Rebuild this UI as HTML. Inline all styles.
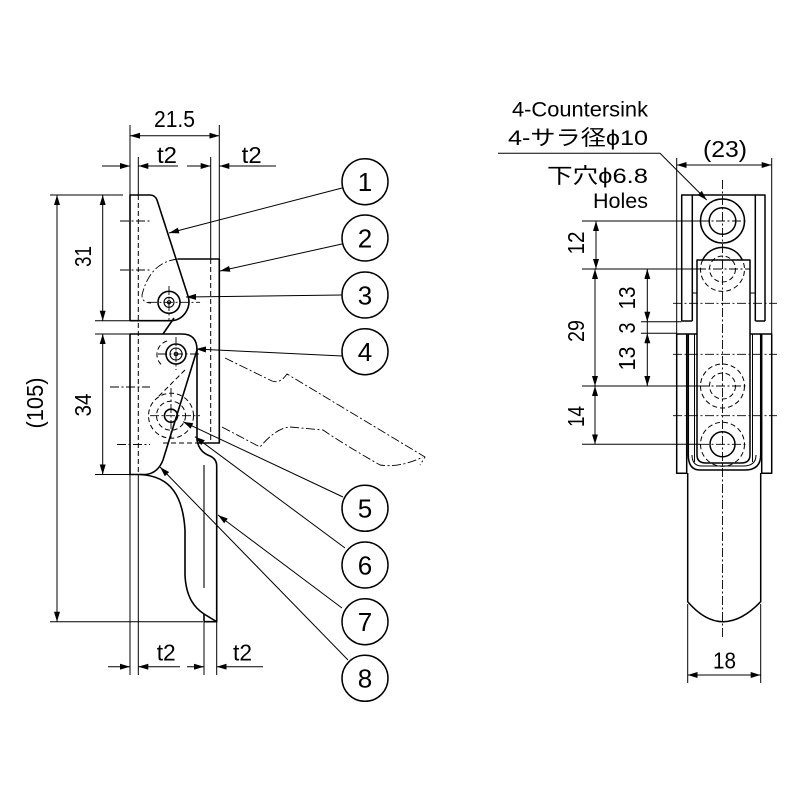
<!DOCTYPE html>
<html><head><meta charset="utf-8"><style>
html,body{margin:0;padding:0;background:#fff;}
svg{display:block;}
text{font-family:"Liberation Sans","Noto Sans CJK JP",sans-serif;fill:#000;}
</style></head><body>
<svg width="800" height="800" viewBox="0 0 800 800" xmlns="http://www.w3.org/2000/svg">
<defs>
<marker id="ar" viewBox="0 0 10 6" refX="10" refY="3" markerWidth="10" markerHeight="6" markerUnits="userSpaceOnUse" orient="auto-start-reverse"><path d="M0,0L10,3L0,6z" fill="#000"/></marker>
</defs>
<rect width="800" height="800" fill="#fff"/>

<!-- ===== LEFT VIEW ===== -->
<g stroke="#000" stroke-width="1" fill="none">
  <line x1="130" y1="125" x2="130" y2="195"/>
  <line x1="138.3" y1="157" x2="138.3" y2="195"/>
  <line x1="210.7" y1="157" x2="210.7" y2="259"/>
  <line x1="219.3" y1="125" x2="219.3" y2="259"/>
  <line x1="130" y1="474.5" x2="130" y2="675"/>
  <line x1="138.3" y1="474.5" x2="138.3" y2="675"/>
  <line x1="204" y1="622" x2="204" y2="675"/>
  <line x1="216.7" y1="622" x2="216.7" y2="675"/>
  <line x1="50" y1="195" x2="123" y2="195"/>
  <line x1="95" y1="320.7" x2="130" y2="320.7"/>
  <line x1="95" y1="334" x2="130" y2="334"/>
  <line x1="95" y1="474.5" x2="130" y2="474.5"/>
  <line x1="50" y1="621.7" x2="203" y2="621.7"/>
  <line x1="130" y1="135.7" x2="219.3" y2="135.7" marker-start="url(#ar)" marker-end="url(#ar)"/>
  <line x1="102" y1="166" x2="130" y2="166" marker-end="url(#ar)"/>
  <line x1="178" y1="166" x2="138.3" y2="166" marker-end="url(#ar)"/>
  <line x1="187" y1="166" x2="210.7" y2="166" marker-end="url(#ar)"/>
  <line x1="276" y1="166" x2="219.3" y2="166" marker-end="url(#ar)"/>
  <line x1="102.7" y1="195" x2="102.7" y2="320.7" marker-start="url(#ar)" marker-end="url(#ar)"/>
  <line x1="102.7" y1="334" x2="102.7" y2="474.5" marker-start="url(#ar)" marker-end="url(#ar)"/>
  <line x1="57" y1="195" x2="57" y2="621.7" marker-start="url(#ar)" marker-end="url(#ar)"/>
  <line x1="108" y1="666.7" x2="130" y2="666.7" marker-end="url(#ar)"/>
  <line x1="180" y1="666.7" x2="138.3" y2="666.7" marker-end="url(#ar)"/>
  <line x1="187" y1="666.7" x2="204" y2="666.7" marker-end="url(#ar)"/>
  <line x1="263" y1="666.7" x2="216.7" y2="666.7" marker-end="url(#ar)"/>
  <line x1="342" y1="188" x2="169" y2="233" marker-end="url(#ar)"/>
  <line x1="342" y1="244" x2="220" y2="271" marker-end="url(#ar)"/>
  <line x1="342" y1="295" x2="186" y2="297" marker-end="url(#ar)"/>
  <line x1="342" y1="356" x2="196" y2="349" marker-end="url(#ar)"/>
  <line x1="343" y1="497" x2="183" y2="421.7" marker-end="url(#ar)"/>
  <line x1="345" y1="548" x2="195" y2="436.7" marker-end="url(#ar)"/>
  <line x1="342" y1="608" x2="218" y2="515" marker-end="url(#ar)"/>
  <line x1="348" y1="660" x2="160" y2="467" marker-end="url(#ar)"/>
</g>

<g stroke="#000" stroke-width="1" fill="none" stroke-dasharray="5,3">
  <line x1="138.3" y1="195" x2="138.3" y2="474.5"/>
  <line x1="210.7" y1="259" x2="210.7" y2="443"/>
  <line x1="163" y1="443" x2="197" y2="443"/>
  <line x1="185" y1="370" x2="158" y2="397"/>
  <path d="M167,341 A14,14 0 0 0 163,366"/>
  <circle cx="171" cy="415.7" r="14.5"/>
  <circle cx="171" cy="415.7" r="22.5"/>
</g>

<g stroke="#000" stroke-width="0.9" fill="none" stroke-dasharray="9,2.5,2,2.5">
  <line x1="120" y1="221" x2="150" y2="221"/>
  <line x1="120" y1="270" x2="150" y2="270"/>
  <line x1="110" y1="387" x2="150" y2="387"/>
  <line x1="117" y1="444.5" x2="150" y2="444.5"/>
  <line x1="148" y1="302.3" x2="200" y2="302.3"/>
  <line x1="169" y1="286" x2="169" y2="320"/>
  <line x1="158" y1="354" x2="200" y2="354"/>
  <line x1="176" y1="337" x2="176" y2="370"/>
  <line x1="150" y1="415.7" x2="200" y2="415.7"/>
  <line x1="171" y1="388" x2="171" y2="438"/>
  <path d="M178,259 Q150,262 142,295 Q142,303 151,303"/>
  <path d="M225,358 L272,381 Q280,384 287,374 L425,457 L420,465"/>
  <path d="M222,427 L260,447 Q276,428 290,427 L323,430 Q345,445 380,465 Q400,468 423,457"/>
</g>

<g stroke="#000" stroke-width="1.6" fill="none" stroke-linejoin="round">
  <path d="M130,320.7 L130,195 L150,195 Q155,195 157,200 L188,296 A19,19 0 0 1 172,320.7 L130,320.7"/>
  <path d="M174,318 L163,334"/>
  <path d="M178,259 L219.3,259 L219.3,443 L197,443"/>
  <path d="M130,474.5 L130,334 L182,334 Q197,334 197,350 L163,460 Q158,473 146,474.5 L130,474.5"/>
  <path d="M197,350 L197,440 Q199,452 210,456 Q216.7,459 216.7,466 L216.7,621.7 L204,621.7"/>
  <path d="M140,474.5 C172,476 183,498 185,530 L185,575 C186,598 195,608 204,614 L216.7,621.7"/>
  <path d="M204,614 L204,621.7"/>
  <circle cx="169" cy="302.3" r="11"/>
  <circle cx="176" cy="354" r="10"/>
  <circle cx="171" cy="415.7" r="6.5"/>
</g>
<g stroke="#000" stroke-width="1.1" fill="none">
  <line x1="204" y1="465" x2="204" y2="588"/>
  <circle cx="169" cy="302.3" r="5"/>
  <circle cx="176" cy="354" r="6"/>
  <circle cx="169" cy="302.3" r="1.6"/>
  <circle cx="176" cy="354" r="1.8"/>
</g>

<g stroke="#000" stroke-width="1.5" fill="#fff">
  <circle cx="365" cy="181.7" r="23"/>
  <circle cx="365" cy="238" r="23"/>
  <circle cx="365" cy="295" r="23"/>
  <circle cx="365" cy="351.7" r="23"/>
  <circle cx="365" cy="508.3" r="23"/>
  <circle cx="365" cy="565" r="23"/>
  <circle cx="365" cy="621.7" r="23"/>
  <circle cx="365" cy="678.3" r="23"/>
</g>
<g font-size="26" text-anchor="middle">
  <text x="365" y="191">1</text>
  <text x="365" y="247.3">2</text>
  <text x="365" y="304.3">3</text>
  <text x="365" y="361">4</text>
  <text x="365" y="517.6">5</text>
  <text x="365" y="574.3">6</text>
  <text x="365" y="631">7</text>
  <text x="365" y="687.6">8</text>
</g>

<g font-size="23">
  <text x="154" y="127" textLength="41" lengthAdjust="spacingAndGlyphs">21.5</text>
  <text x="157" y="163" textLength="20" lengthAdjust="spacingAndGlyphs">t2</text>
  <text x="241.7" y="163" textLength="20" lengthAdjust="spacingAndGlyphs">t2</text>
  <text x="156.7" y="660.7" textLength="19" lengthAdjust="spacingAndGlyphs">t2</text>
  <text x="233" y="660.7" textLength="19" lengthAdjust="spacingAndGlyphs">t2</text>
  <text transform="translate(91,267) rotate(-90)" textLength="21" lengthAdjust="spacingAndGlyphs">31</text>
  <text transform="translate(91,416.5) rotate(-90)" textLength="23" lengthAdjust="spacingAndGlyphs">34</text>
  <text transform="translate(43,428.5) rotate(-90)" textLength="51" lengthAdjust="spacingAndGlyphs">(105)</text>
</g>

<!-- ===== RIGHT VIEW ===== -->
<g font-size="21">
  <text x="512" y="116.7" textLength="136" lengthAdjust="spacingAndGlyphs">4-Countersink</text>
  <text x="508" y="145" textLength="140" lengthAdjust="spacingAndGlyphs">4-サラ径ϕ10</text>
  <text x="547" y="183" textLength="101" lengthAdjust="spacingAndGlyphs">下穴ϕ6.8</text>
  <text x="593" y="208" textLength="55" lengthAdjust="spacingAndGlyphs">Holes</text>
</g>
<g font-size="23">
  <text x="703" y="157" textLength="44" lengthAdjust="spacingAndGlyphs">(23)</text>
  <text x="713" y="668.3" textLength="23" lengthAdjust="spacingAndGlyphs">18</text>
  <text transform="translate(584,254.5) rotate(-90)" textLength="23" lengthAdjust="spacingAndGlyphs">12</text>
  <text transform="translate(584,342) rotate(-90)" textLength="22" lengthAdjust="spacingAndGlyphs">29</text>
  <text transform="translate(584,427) rotate(-90)" textLength="21" lengthAdjust="spacingAndGlyphs">14</text>
  <text transform="translate(635,309.5) rotate(-90)" textLength="23" lengthAdjust="spacingAndGlyphs">13</text>
  <text transform="translate(635,333.5) rotate(-90)" textLength="11" lengthAdjust="spacingAndGlyphs">3</text>
  <text transform="translate(635,370.5) rotate(-90)" textLength="24" lengthAdjust="spacingAndGlyphs">13</text>
</g>

<g stroke="#000" stroke-width="1" fill="none">
  <path d="M498,153.3 L660,153.3 L706.7,200" marker-end="url(#ar)"/>
  <line x1="676.7" y1="158" x2="676.7" y2="334"/>
  <line x1="771.7" y1="158" x2="771.7" y2="334"/>
  <line x1="676.7" y1="165" x2="771.7" y2="165" marker-start="url(#ar)" marker-end="url(#ar)"/>
  <line x1="582" y1="221" x2="700" y2="221"/>
  <line x1="582" y1="269" x2="697" y2="269"/>
  <line x1="582" y1="386" x2="700" y2="386"/>
  <line x1="582" y1="444.3" x2="700" y2="444.3"/>
  <line x1="641" y1="321.7" x2="681.7" y2="321.7"/>
  <line x1="641" y1="333.3" x2="676.7" y2="333.3"/>
  <line x1="596" y1="221" x2="596" y2="269" marker-start="url(#ar)" marker-end="url(#ar)"/>
  <line x1="595" y1="269" x2="595" y2="386" marker-start="url(#ar)" marker-end="url(#ar)"/>
  <line x1="595" y1="386" x2="595" y2="444.3" marker-start="url(#ar)" marker-end="url(#ar)"/>
  <line x1="647.3" y1="269" x2="647.3" y2="321.7" marker-start="url(#ar)" marker-end="url(#ar)"/>
  <line x1="647.3" y1="321.7" x2="647.3" y2="333.3"/>
  <line x1="647.3" y1="333.3" x2="647.3" y2="386" marker-start="url(#ar)" marker-end="url(#ar)"/>
  <line x1="687.7" y1="604" x2="687.7" y2="683"/>
  <line x1="760.7" y1="604" x2="760.7" y2="683"/>
  <line x1="687.7" y1="675" x2="760.7" y2="675" marker-start="url(#ar)" marker-end="url(#ar)"/>
</g>

<g stroke="#000" stroke-width="1.5" fill="none" stroke-linejoin="round">
  <path d="M681.7,321 L681.7,195 L765,195 L765,321"/>
  <path d="M681.7,321 L692.3,321 M755.3,321 L765,321"/>
  <line x1="692.3" y1="195" x2="692.3" y2="321"/>
  <line x1="755.3" y1="195" x2="755.3" y2="321"/>
  <circle cx="722.5" cy="221" r="22"/>
  <circle cx="722.5" cy="221" r="13.3"/>
  <path d="M702.6,260 A22,22 0 0 1 742.4,260"/>
  <path d="M697,455 L697,260 L750,260 L750,455 Q750,463 741,463 L706,463 Q697,463 697,455"/>
  <path d="M697,334 L676.7,334 L676.7,473.3 L686.7,473.3 L686.7,334"/>
  <path d="M750,334 L771.7,334 L771.7,473.3 L761.7,473.3 L761.7,334"/>
  <path d="M688.3,334 L688.3,455 Q688.3,470 700,470 L745,470 Q760.7,470 760.7,455 L760.7,334"/>
  <path d="M687.7,473 L687.7,601.7 Q722.2,641.7 760.7,601.7 L760.7,473"/>
  <circle cx="722.5" cy="444.3" r="12.5"/>
</g>
<g stroke="#000" stroke-width="1" fill="none">
  <line x1="692.3" y1="293" x2="697" y2="293"/>
  <line x1="750" y1="293" x2="755.3" y2="293"/>
  <line x1="694.5" y1="334" x2="694.5" y2="462"/>
  <line x1="752.5" y1="334" x2="752.5" y2="462"/>
  <path d="M692,455 Q692,466 702,466 L743,466 Q756,466 756,455"/>
</g>
<g stroke="#000" stroke-width="1" fill="none" stroke-dasharray="5,3">
  <path d="M702.6,260 A22,22 0 1 0 742.4,260"/>
  <circle cx="722.5" cy="269" r="13"/>
  <circle cx="722.5" cy="386" r="22"/>
  <circle cx="722.5" cy="386" r="13"/>
  <circle cx="722.5" cy="444.3" r="22"/>
</g>
<g stroke="#000" stroke-width="0.9" fill="none" stroke-dasharray="9,2.5,2,2.5">
  <line x1="722.5" y1="180" x2="722.5" y2="637"/>
  <line x1="700" y1="221" x2="746" y2="221"/>
  <line x1="697" y1="269" x2="750" y2="269"/>
  <line x1="673" y1="303.3" x2="777" y2="303.3"/>
  <line x1="673" y1="354.3" x2="777" y2="354.3"/>
  <line x1="700" y1="386" x2="746" y2="386"/>
  <line x1="673" y1="415.7" x2="777" y2="415.7"/>
  <line x1="700" y1="444.3" x2="746" y2="444.3"/>
</g>
</svg>
</body></html>
